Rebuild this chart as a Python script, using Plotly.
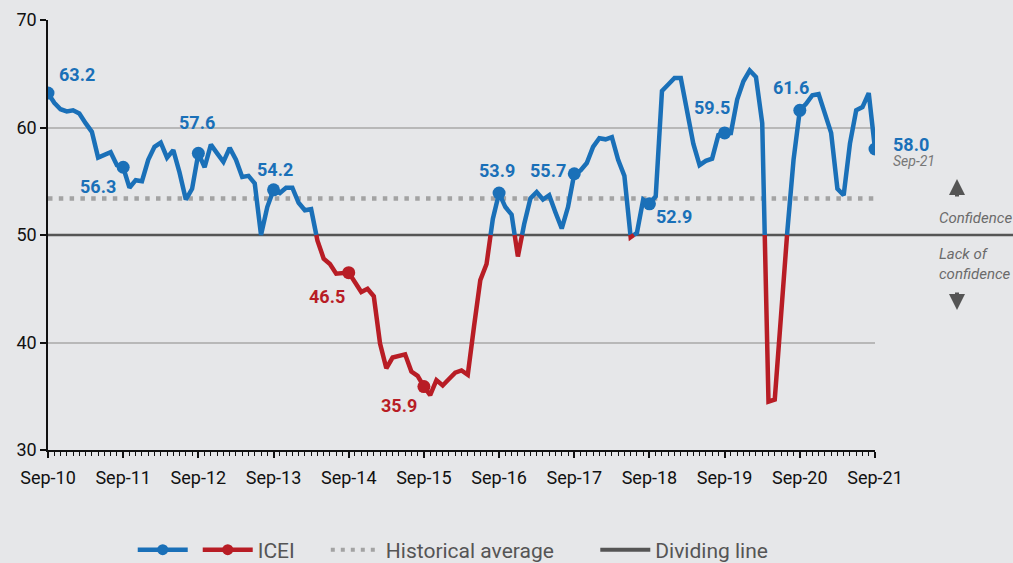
import plotly.graph_objects as go

# ---------------- data ----------------
icei = [
    63.2, 62.3, 61.7, 61.5, 61.6, 61.3, 60.4, 59.6, 57.2, 57.5, 57.7, 56.5,
    56.3, 54.4, 55.1, 55.0, 57.0, 58.2, 58.6, 57.2, 57.9, 55.8, 53.3, 54.3,
    57.6, 56.3, 58.4, 57.6, 56.8, 58.1, 57.0, 55.4, 55.5, 54.8, 50.0, 52.6,
    54.2, 53.9, 54.4, 54.4, 53.0, 52.3, 52.4, 49.5, 47.8, 47.3, 46.4, 46.5,
    46.5, 45.6, 44.7, 45.0, 44.3, 39.9, 37.6, 38.6, 38.7, 38.9, 37.3, 36.9,
    35.9, 35.1, 36.5, 36.0, 36.6, 37.2, 37.4, 37.0, 41.5, 45.8, 47.3, 51.5,
    53.9, 52.6, 51.9, 48.0, 51.0, 53.4, 54.0, 53.3, 53.7, 52.1, 50.6, 52.6,
    55.7, 56.0, 56.7, 58.2, 59.0, 58.9, 59.1, 57.0, 55.5, 49.8, 50.2, 53.3,
    52.9, 53.6, 63.4, 64.0, 64.6, 64.6, 61.6, 58.5, 56.5, 56.9, 57.1, 59.3,
    59.5, 59.5, 62.6, 64.3, 65.3, 64.7, 60.4, 34.5, 34.7, 42.2, 50.3, 57.0,
    61.6, 62.2, 63.0, 63.1, 61.2, 59.5, 54.3, 53.7, 58.5, 61.6, 61.9, 63.2,
    58.0,
]
months = list(range(len(icei)))
year_ticks = [0, 12, 24, 36, 48, 60, 72, 84, 96, 108, 120, 132]
year_labels = ["Sep-10", "Sep-11", "Sep-12", "Sep-13", "Sep-14", "Sep-15",
               "Sep-16", "Sep-17", "Sep-18", "Sep-19", "Sep-20", "Sep-21"]
historical_average = 53.4
dividing_value = 50
y_ticks = [30, 40, 50, 60, 70]
y_grid = [40, 60, 70]

# ---------------- style ----------------
BLUE = "#1a70b8"
RED = "#b81d25"
DOT = "#a3a3a3"
DIV = "#555555"
GRID = "#b8b8b8"
BG = "#e6e7e9"
FONT = "Roboto, sans-serif"
NB = "\u00a0"


def colored_paths(x, y, thr):
    out = {"blue": ([], []), "red": ([], [])}

    def col(v):
        return "red" if v < thr else "blue"

    def flush(c, px, py):
        out[c][0].extend(px + [None])
        out[c][1].extend(py + [None])

    cur = col(y[0])
    px, py = [x[0]], [y[0]]
    for i in range(1, len(x)):
        c = col(y[i])
        if c == cur:
            px.append(x[i]); py.append(y[i])
        else:
            f = (thr - y[i - 1]) / (y[i] - y[i - 1])
            xc = x[i - 1] + f * (x[i] - x[i - 1])
            px.append(xc); py.append(thr)
            flush(cur, px, py)
            cur = c
            px, py = [xc, x[i]], [thr, y[i]]
    flush(cur, px, py)
    return out


paths = colored_paths(months, icei, dividing_value)

fig = go.Figure()

# historical average (dotted)
fig.add_trace(go.Scatter(
    x=[months[0], months[-1]], y=[historical_average, historical_average],
    mode="lines", line=dict(color=DOT, width=4.5, dash="4.5px,6.3px"),
    showlegend=False, hoverinfo="skip"))

for c, colr in (("blue", BLUE), ("red", RED)):
    fig.add_trace(go.Scatter(
        x=paths[c][0], y=paths[c][1], mode="lines",
        line=dict(color=colr, width=4.5), showlegend=False, hoverinfo="skip"))

# yearly markers
mx = [months[k] for k in year_ticks]
my = [icei[k] for k in year_ticks]
mc = [RED if v < dividing_value else BLUE for v in my]
fig.add_trace(go.Scatter(x=mx, y=my, mode="markers",
                         marker=dict(color=mc, size=13), showlegend=False))

# legend-only traces
fig.add_trace(go.Scatter(x=[None], y=[None], mode="lines+markers", name="",
                         line=dict(color=BLUE, width=4.5), marker=dict(size=11, color=BLUE)))
fig.add_trace(go.Scatter(x=[None], y=[None], mode="lines+markers", name="ICEI" + NB * 5,
                         line=dict(color=RED, width=4.5), marker=dict(size=11, color=RED)))
fig.add_trace(go.Scatter(x=[None], y=[None], mode="lines", name="Historical average" + NB * 7,
                         line=dict(color=DOT, width=4, dash="4px,6px")))
fig.add_trace(go.Scatter(x=[None], y=[None], mode="lines", name="Dividing line",
                         line=dict(color=DIV, width=4)))

# dividing line (extends beyond plot area)
x0p, x1p = 48, 875
fig.add_shape(type="line", xref="paper", yref="y", x0=0, x1=(1013 - x0p) / (x1p - x0p),
              y0=dividing_value, y1=dividing_value, line=dict(color=DIV, width=2.5), layer="below")

# value labels
label_spec = {
    0: dict(xanchor="left", xshift=9, yshift=19),
    12: dict(xanchor="right", xshift=-5, yshift=-19),
    24: dict(xanchor="center", xshift=-1, yshift=31),
    36: dict(xanchor="center", xshift=1, yshift=20),
    48: dict(xanchor="right", xshift=-2, yshift=-24),
    60: dict(xanchor="right", xshift=-5, yshift=-19),
    72: dict(xanchor="center", xshift=-2, yshift=23),
    84: dict(xanchor="right", xshift=-6, yshift=3),
    96: dict(xanchor="left", xshift=5, yshift=-13),
    108: dict(xanchor="center", xshift=-13, yshift=25),
    120: dict(xanchor="center", xshift=-9, yshift=23),
    132: dict(xanchor="left", xshift=16, yshift=5),
}
for k, spec in label_spec.items():
    v = icei[k]
    fig.add_annotation(x=months[k], y=v, text=f"<b>{v:.1f}</b>", showarrow=False,
                       yanchor="middle", font=dict(size=18, color=RED if v < dividing_value else BLUE,
                                                   family=FONT), **spec)
fig.add_annotation(x=months[-1], y=icei[-1], text="<i>" + year_labels[-1] + "</i>", showarrow=False,
                   xanchor="left", yanchor="middle", xshift=16, yshift=-12,
                   font=dict(size=14, color="#777777", family=FONT))


def px_x(p):
    return (p - 48) / (875 - 48)


def px_y(p):
    return (450 - p) / 430


fig.add_annotation(xref="paper", yref="paper", x=px_x(937), y=px_y(218), text="<i>Confidence</i>",
                   showarrow=False, xanchor="left", yanchor="middle",
                   font=dict(size=15, color="#6b6b6b", family=FONT))
fig.add_annotation(xref="paper", yref="paper", x=px_x(937), y=px_y(264),
                   text="<i>Lack of<br>confidence</i>", showarrow=False, xanchor="left",
                   yanchor="middle", align="left", font=dict(size=15, color="#6b6b6b", family=FONT))
# arrows
fig.add_annotation(xref="paper", yref="paper", x=px_x(957), y=px_y(179), ax=0, ay=19,
                   text="", showarrow=True, arrowhead=2,
                   arrowsize=0.8, arrowwidth=4, arrowcolor="#555555")
fig.add_annotation(xref="paper", yref="paper", x=px_x(957), y=px_y(310), ax=0, ay=-19,
                   text="", showarrow=True, arrowhead=2,
                   arrowsize=0.8, arrowwidth=4, arrowcolor="#555555")

fig.update_layout(
    width=1013, height=563,
    margin=dict(l=48, r=1013 - 875, t=20, b=113, autoexpand=False),
    paper_bgcolor=BG, plot_bgcolor="rgba(0,0,0,0)",
    font=dict(family=FONT, size=18, color="#111111"),
    legend=dict(orientation="h", x=0.49, xanchor="center", y=px_y(550), yanchor="middle",
                font=dict(size=21, color="#555555"), itemwidth=50, bgcolor="rgba(0,0,0,0)"),
    xaxis=dict(range=[0, months[-1]], tickvals=[months[k] for k in year_ticks], ticktext=year_labels,
               showgrid=False, zeroline=False, showline=True, linecolor="#111111", linewidth=1.5,
               ticks="outside", ticklen=6, tickwidth=1.5, tickcolor="#111111", ticklabelstandoff=5,
               minor=dict(dtick=1, ticks="outside", ticklen=4, tickwidth=1, tickcolor="#111111", showgrid=False),
               tickfont=dict(size=18), fixedrange=True),
    yaxis=dict(range=[30, 70], tickvals=y_ticks, showgrid=False,
               zeroline=False, showline=True, linecolor="#111111", linewidth=1.5,
               ticks="outside", ticklen=6, tickwidth=1.5, tickcolor="#111111",
               minor=dict(tickvals=y_grid, showgrid=True, gridcolor=GRID, gridwidth=1.5, ticks=""),
               tickfont=dict(size=18), fixedrange=True),
)

fig.write_html("out.html", config={"displayModeBar": False},
               post_script="document.body.style.margin='0';document.body.style.overflow='hidden';")
